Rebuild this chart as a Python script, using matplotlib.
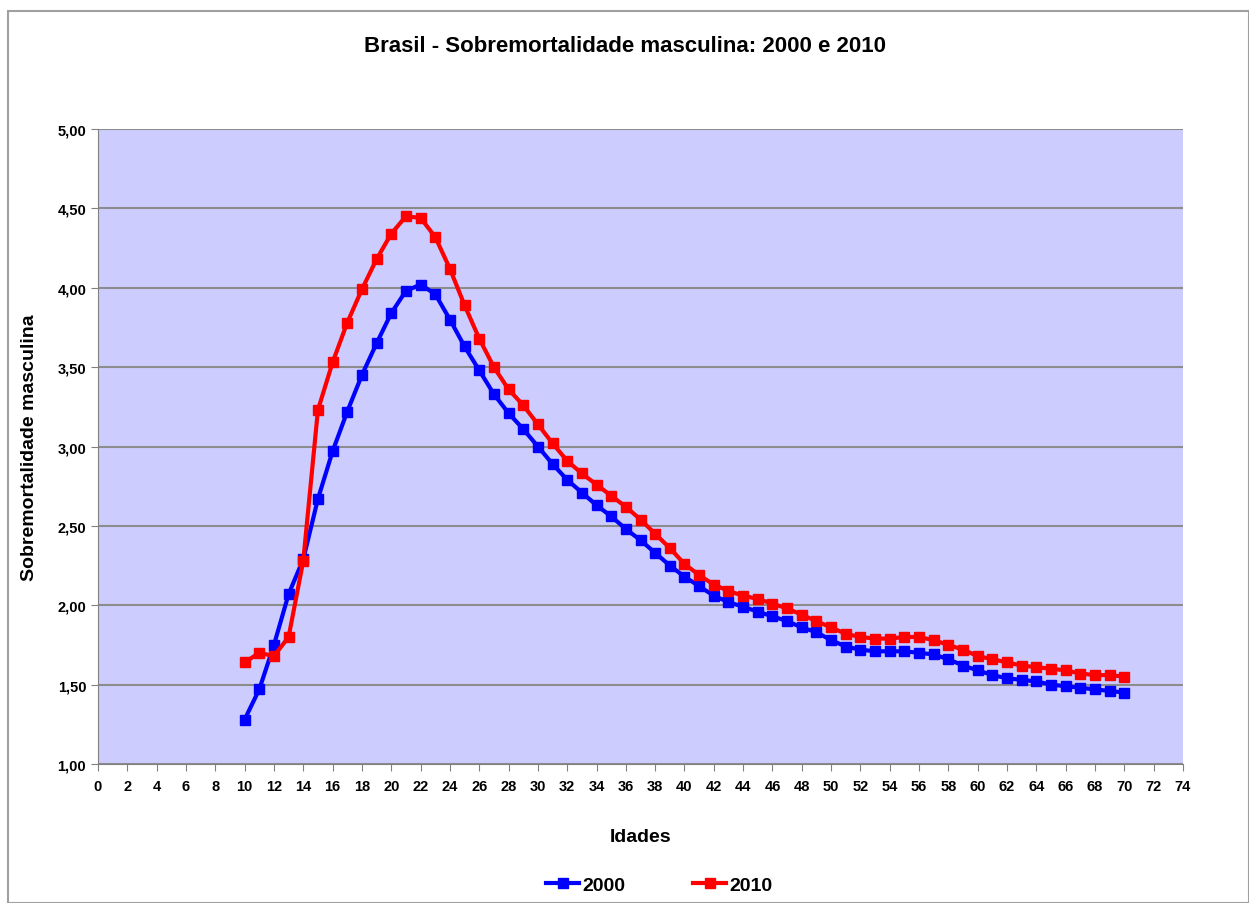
import matplotlib
matplotlib.use("Agg")
import matplotlib.pyplot as plt
from matplotlib.ticker import FuncFormatter, MultipleLocator
from matplotlib.patches import Rectangle

ages = list(range(10, 71))
s2000 = [1.28, 1.47, 1.75, 2.07, 2.29, 2.67, 2.97, 3.22, 3.45, 3.65,
         3.84, 3.98, 4.02, 3.96, 3.80, 3.63, 3.48, 3.33, 3.21, 3.11,
         3.00, 2.89, 2.79, 2.71, 2.63, 2.56, 2.48, 2.41, 2.33, 2.25,
         2.18, 2.12, 2.06, 2.02, 1.99, 1.96, 1.93, 1.90, 1.86, 1.83,
         1.78, 1.74, 1.72, 1.71, 1.71, 1.71, 1.70, 1.69, 1.66, 1.62,
         1.59, 1.56, 1.54, 1.53, 1.52, 1.50, 1.49, 1.48, 1.47, 1.46,
         1.45]
s2010 = [1.64, 1.70, 1.68, 1.80, 2.28, 3.23, 3.53, 3.78, 3.99, 4.18,
         4.34, 4.45, 4.44, 4.32, 4.12, 3.89, 3.68, 3.50, 3.36, 3.26,
         3.14, 3.02, 2.91, 2.83, 2.76, 2.69, 2.62, 2.54, 2.45, 2.36,
         2.26, 2.19, 2.13, 2.09, 2.06, 2.04, 2.01, 1.98, 1.94, 1.90,
         1.86, 1.82, 1.80, 1.79, 1.79, 1.80, 1.80, 1.78, 1.75, 1.72,
         1.68, 1.66, 1.64, 1.62, 1.61, 1.60, 1.59, 1.57, 1.56, 1.56,
         1.55]
labels = ["2000", "2010"]
title = "Brasil - Sobremortalidade masculina: 2000 e 2010"

plt.rcParams['font.family'] = ['Liberation Sans', 'DejaVu Sans']

fig = plt.figure(figsize=(12.49, 9.04), dpi=100)
fig.patches.append(Rectangle((8/1249, 0), 1 - 8/1249, 1 - 12/904, transform=fig.transFigure,
                             fill=False, edgecolor='#a0a0a0', linewidth=1.5))
ax = fig.add_axes([98/1249, 1 - 765/904, (1183 - 98)/1249, (765 - 130)/904])
ax.set_facecolor('#CCCCFF')

ax.plot(ages, s2000, color='#0000FF', marker='s', markersize=7, linewidth=3, label=labels[0])
ax.plot(ages, s2010, color='#FF0000', marker='s', markersize=7, linewidth=3, label=labels[1])

ax.set_xlim(0, 74)
ax.set_ylim(1.0, 5.0)
ax.xaxis.set_major_locator(MultipleLocator(2))
ax.yaxis.set_major_locator(MultipleLocator(0.5))
ax.yaxis.set_major_formatter(FuncFormatter(lambda v, p: f"{v:.2f}".replace('.', ',')))
ax.grid(axis='y', color='#8c8c8c', linewidth=1.5)
ax.set_axisbelow(True)
for sp in ['top', 'right']:
    ax.spines[sp].set_visible(False)
for sp in ['left', 'bottom']:
    ax.spines[sp].set_color('#808080')
ax.tick_params(axis='both', direction='out', length=5, color='#808080', labelsize=10.5)
ax.tick_params(axis='x', pad=6)
for t in ax.get_xticklabels() + ax.get_yticklabels():
    t.set_fontweight('bold')

ax.set_xlabel("Idades", fontsize=14, fontweight='bold', labelpad=25)
ax.set_ylabel("Sobremortalidade masculina", fontsize=14, fontweight='bold', labelpad=14)
fig.text(0.5, 1 - 47/904, title, ha='center', va='center', fontsize=16, fontweight='bold')

leg = fig.legend(loc='center', bbox_to_anchor=(0.528, 1 - 886/904), ncol=2, frameon=False,
                 handlelength=1.7, columnspacing=3.5, handletextpad=0.15,
                 prop={'weight': 'bold', 'size': 14})

fig.savefig("out.png", dpi=100)
